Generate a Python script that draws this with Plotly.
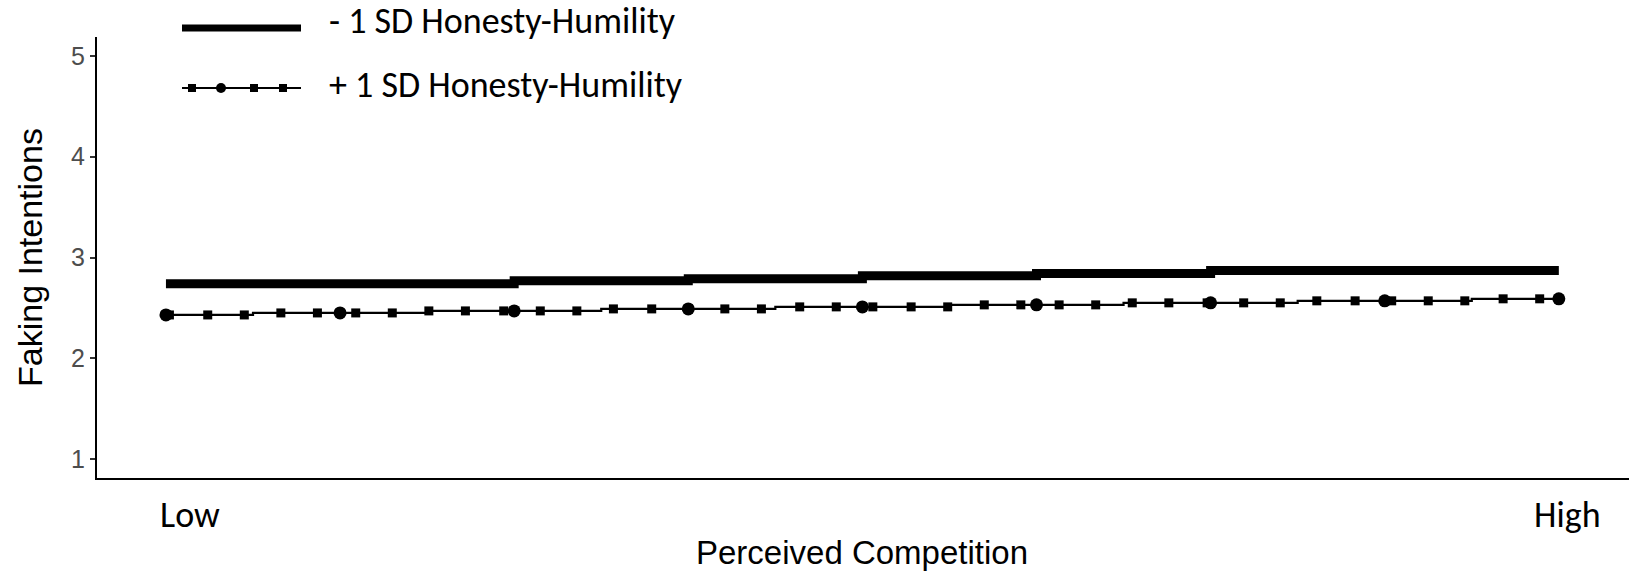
import numpy as np
import plotly.graph_objects as go

# Perceived competition positions (Low = 0 ... High = 8)
comp_points = [0, 1, 2, 3, 4, 5, 6, 7, 8]

# -1 SD Honesty-Humility: stepped predicted faking intentions
low_hh_x = [0, 2, 3, 4, 5, 6, 8]
low_hh_y = [2.74, 2.77, 2.79, 2.82, 2.84, 2.87, 2.87]

# +1 SD Honesty-Humility: predicted faking intentions at each position
high_hh_y = [2.43, 2.45, 2.47, 2.49, 2.51, 2.53, 2.55, 2.57, 2.59]

# positions of the small square markers along the +1 SD line
square_x = [0.02, 0.24, 0.45, 0.66, 0.87, 1.09, 1.30, 1.51, 1.72, 1.94,
            2.15, 2.36, 2.57, 2.79, 3.00, 3.21, 3.42, 3.64, 3.85, 4.06,
            4.28, 4.49, 4.70, 4.91, 5.13, 5.34, 5.55, 5.76, 5.98, 6.19,
            6.40, 6.61, 6.83, 7.04, 7.25, 7.46, 7.68, 7.89]

y_ticks = [1, 2, 3, 4, 5]
x_tick_pos = [0.14, 8.05]
x_tick_text = ["Low", "High"]
legend_labels = ["- 1 SD Honesty-Humility", "+ 1 SD Honesty-Humility"]

W, H = 1629, 573
L, R, T, B = 97, 1629, 37, 478


def px(x):
    return (x - L) / (R - L)


def py(y):
    return (B - y) / (B - T)


# squares sit on the stepped +1 SD line
square_y = [high_hh_y[int(np.rint(v))] for v in square_x]

fig = go.Figure()

fig.add_trace(go.Scatter(
    x=low_hh_x, y=low_hh_y, mode="lines", line_shape="hv",
    line=dict(color="black", width=9), showlegend=False, hoverinfo="skip"))

fig.add_trace(go.Scatter(
    x=comp_points, y=high_hh_y, mode="lines+markers", line_shape="hvh",
    line=dict(color="black", width=2.2),
    marker=dict(symbol="circle", size=13, color="black"),
    showlegend=False, hoverinfo="skip"))

fig.add_trace(go.Scatter(
    x=square_x, y=square_y, mode="markers",
    marker=dict(symbol="square", size=9, color="black"),
    showlegend=False, hoverinfo="skip"))

axis_font = "Liberation Sans, Arial, sans-serif"
call_font = "Calibri, Carlito, Lato, sans-serif"

annotations = []
for pos, txt in zip(x_tick_pos, x_tick_text):
    annotations.append(dict(
        x=pos, y=py(515), xref="x", yref="paper", text=txt, showarrow=False,
        xanchor="center", yanchor="middle",
        font=dict(family=call_font, size=36, color="black")))

annotations.append(dict(
    x=px(862), y=py(552), xref="paper", yref="paper",
    text="Perceived Competition", showarrow=False,
    xanchor="center", yanchor="middle",
    font=dict(family=axis_font, size=33, color="black")))

annotations.append(dict(
    x=px(30), y=py(258), xref="paper", yref="paper",
    text="Faking Intentions", textangle=-90, showarrow=False,
    xanchor="center", yanchor="middle",
    font=dict(family=axis_font, size=34, color="black")))

# legend entries drawn by hand
legend_y = [21, 85]
for ly, lab in zip(legend_y, legend_labels):
    annotations.append(dict(
        x=px(327), y=py(ly), xref="paper", yref="paper", text=lab,
        showarrow=False, xanchor="left", yanchor="middle",
        font=dict(family=call_font, size=36, color="black")))

shapes = [
    dict(type="line", xref="paper", yref="paper",
         x0=px(182), x1=px(301), y0=py(28), y1=py(28),
         line=dict(color="black", width=7)),
    dict(type="line", xref="paper", yref="paper",
         x0=px(182), x1=px(301), y0=py(88), y1=py(88),
         line=dict(color="black", width=2)),
]
for cx, kind, r in [(192, "rect", 4), (221, "circle", 5),
                    (254, "rect", 4), (283, "rect", 4)]:
    shapes.append(dict(type=kind, xref="paper", yref="paper",
                       x0=px(cx - r), x1=px(cx + r),
                       y0=py(88 + r), y1=py(88 - r),
                       fillcolor="black", line=dict(color="black", width=0)))

fig.update_layout(
    width=W, height=H,
    margin=dict(l=L, r=W - R, t=T, b=H - B),
    paper_bgcolor="white", plot_bgcolor="white",
    showlegend=False,
    annotations=annotations,
    shapes=shapes,
    xaxis=dict(range=[-0.396, 8.403], showgrid=False, zeroline=False,
               showline=True, linecolor="black", linewidth=2,
               ticks="", showticklabels=False, fixedrange=True),
    yaxis=dict(range=[0.812, 5.188], showgrid=False, zeroline=False,
               showline=True, linecolor="black", linewidth=2,
               tickvals=y_ticks, ticks="outside", ticklen=5, tickwidth=1.5,
               tickcolor="#333333",
               tickfont=dict(family=axis_font, size=25, color="#4D4D4D"),
               fixedrange=True),
)

fig.write_html("out.html")
